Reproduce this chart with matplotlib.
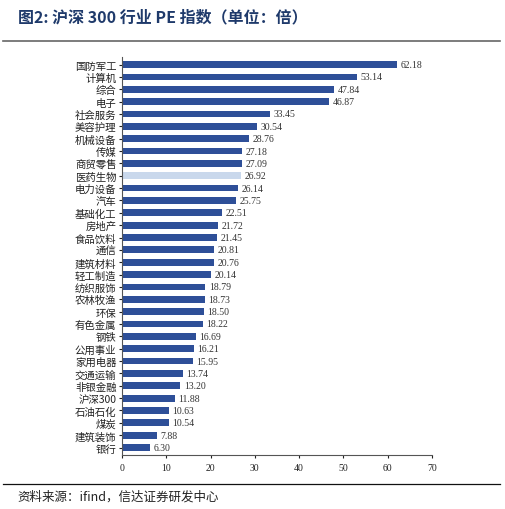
import matplotlib
matplotlib.use("Agg")
import matplotlib.pyplot as plt
from matplotlib.lines import Line2D

categories = ["国防军工","计算机","综合","电子","社会服务","美容护理","机械设备","传媒","商贸零售","医药生物",
              "电力设备","汽车","基础化工","房地产","食品饮料","通信","建筑材料","轻工制造","纺织服饰","农林牧渔",
              "环保","有色金属","钢铁","公用事业","家用电器","交通运输","非银金融","沪深300","石油石化","煤炭",
              "建筑装饰","银行"]
values = [62.18,53.14,47.84,46.87,33.45,30.54,28.76,27.18,27.09,26.92,26.14,25.75,22.51,21.72,21.45,20.81,
          20.76,20.14,18.79,18.73,18.50,18.22,16.69,16.21,15.95,13.74,13.20,11.88,10.63,10.54,7.88,6.30]
xticks = [0,10,20,30,40,50,60,70]

plt.rcParams['font.family'] = ['Noto Sans CJK SC', 'DejaVu Sans']
fig = plt.figure(figsize=(5.05,5.10), dpi=100)
ax = fig.add_axes([0.2416,0.106,0.6134,0.78])
colors = ["#c9d8ec" if c=="医药生物" else "#2e4f98" for c in categories]
y = list(range(len(categories)))[::-1]
ax.barh(y, values, height=0.55, color=colors)
ax.set_ylim(-0.6, len(categories)-0.4)
ax.set_xlim(0,70)
ax.set_yticks(y)
ax.set_yticklabels(categories, fontsize=7.5)
ax.set_xticks(xticks)
ax.set_xticklabels([str(t) for t in xticks], family='Liberation Serif', fontsize=7)
for yi, v in zip(y, values):
    ax.text(v+0.8, yi, f"{v:.2f}", va='center', ha='left', fontsize=7, family='Liberation Serif', color='#333333')
for s in ['top','right']:
    ax.spines[s].set_visible(False)
ax.spines['left'].set_color('#555555'); ax.spines['bottom'].set_color('#555555')
ax.tick_params(axis='y', length=2, pad=2, colors='#222222')
ax.tick_params(axis='x', length=2, colors='#222222')

fig.text(0.035,0.965,"图2: 沪深 300 行业 PE 指数（单位：倍）", fontsize=11.5, weight='bold', color='#1f3a6b', va='center',
         family=['Noto Sans CJK SC','DejaVu Sans'])
fig.add_artist(Line2D([0.005,0.99],[0.917,0.917], color='#666666', lw=1.2, transform=fig.transFigure))
fig.add_artist(Line2D([0.005,0.99],[0.049,0.049], color='#111111', lw=0.9, transform=fig.transFigure))
fig.text(0.035,0.025,"资料来源：ifind，信达证券研发中心", fontsize=9, style='italic', va='center', color='#222222')
fig.savefig("out.png", dpi=100)
